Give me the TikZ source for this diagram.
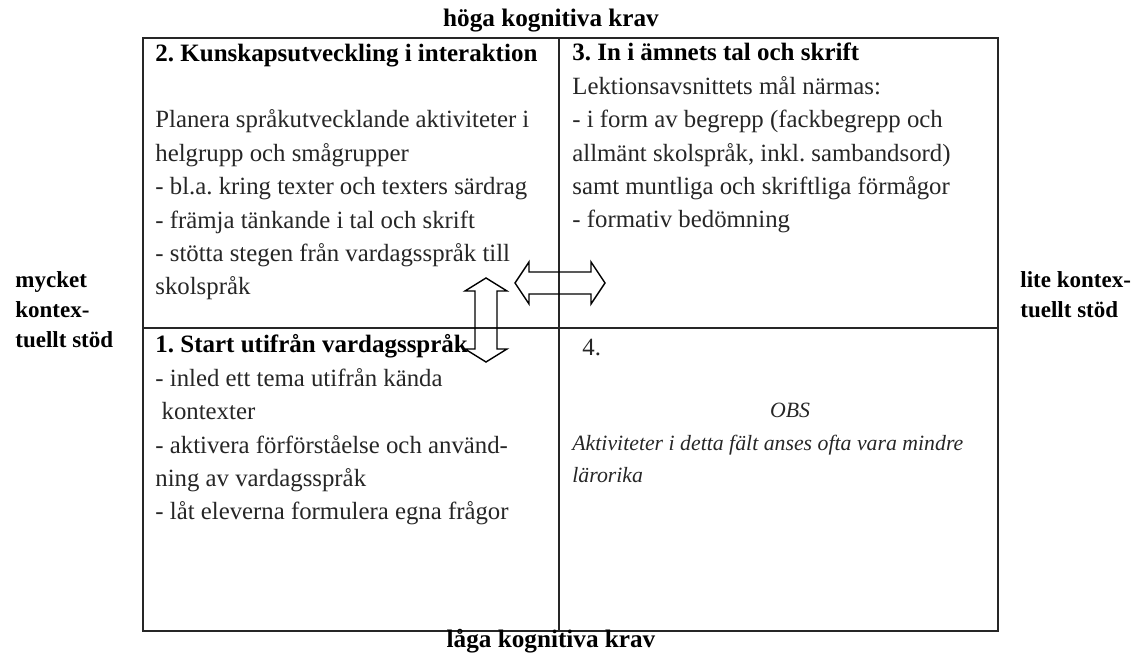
\documentclass[tikz,border=0pt]{standalone}
\usepackage{fontspec}
\setmainfont{Liberation Serif}
\frenchspacing
\tikzset{
  cell/.style={anchor=base west, align=left, inner sep=0pt, text=black!85, font=\fontsize{12.4}{16.7}\selectfont},
  note/.style={anchor=base west, align=left, inner sep=0pt, text=black!85, font=\fontsize{10.9}{16}\selectfont\itshape},
  side/.style={anchor=base west, align=left, inner sep=0pt, font=\fontsize{11.5}{15}\selectfont\bfseries},
  axis/.style={anchor=base, inner sep=0pt, font=\fontsize{12.6}{15}\selectfont\bfseries},
  frame/.style={line width=0.9pt, black!85},
  arrowline/.style={line width=0.7pt, line join=miter},
}
\newcommand{\celltitle}[1]{\textcolor{black}{\fontsize{12.5}{16.7}\selectfont\bfseries #1}}
\begin{document}
\begin{tikzpicture}[x=0.5pt, y=-0.5pt]
  \useasboundingbox (0,0) rectangle (1137,656);

  % grid
  \coordinate (tl) at (143,38);
  \coordinate (br) at (998,631);
  \coordinate (mt) at (559,38);
  \coordinate (mb) at (559,631);
  \coordinate (ml) at (143,328);
  \coordinate (mr) at (998,328);
  \draw[frame] (tl) rectangle (br);
  \draw[frame] (mt) -- (mb);
  \draw[frame] (ml) -- (mr);

  % axes (base anchor = last line)
  \node[axis] (high) at (551,27) {höga kognitiva krav};
  \node[axis] (low) at (551,648) {låga kognitiva krav};
  \node[side] (much) at (15,348) {mycket\\kontex-\\tuellt stöd};
  \node[side] (little) at (1020,318) {lite kontex-\\tuellt stöd};

  % quadrants
  \node[cell] (q2) at (155,295) {\celltitle{2. Kunskapsutveckling i interaktion}\\[16.7pt]
    Planera språkutvecklande aktiviteter i\\
    helgrupp och smågrupper\\
    - bl.a. kring texter och texters särdrag\\
    - främja tänkande i tal och skrift\\
    - stötta stegen från vardagsspråk till\\
    skolspråk};
  \node[cell] (q3) at (572,228) {\celltitle{3. In i ämnets tal och skrift}\\
    Lektionsavsnittets mål närmas:\\
    - i form av begrepp (fackbegrepp och\\
    allmänt skolspråk, inkl. sambandsord)\\
    samt muntliga och skriftliga förmågor\\
    - formativ bedömning};
  \node[cell] (q1) at (155,520) {\celltitle{1. Start utifrån vardagsspråk}\\
    - inled ett tema utifrån kända\\
    \ kontexter\\
    - aktivera förförståelse och använd-\\
    ning av vardagsspråk\\
    - låt eleverna formulera egna frågor};
  \node[cell] (q4) at (582,356) {4.};
  \node[note, anchor=base] (obs) at (790,418) {OBS};
  \node[note] (warn) at (572,483) {Aktiviteter i detta fält anses ofta vara mindre\\lärorika};

  % arrows
  \begin{scope}[shift={(560,283)}]
    \draw[arrowline] (-45,0) -- (-31,-21) -- (-31,-11) -- (31,-11) -- (31,-21)
      -- (45,0) -- (31,21) -- (31,11) -- (-31,11) -- (-31,21) -- cycle;
  \end{scope}
  \begin{scope}[shift={(486,320)}]
    \draw[arrowline] (0,-42) -- (-21,-29) -- (-11,-29) -- (-11,29) -- (-21,29)
      -- (0,42) -- (21,29) -- (11,29) -- (11,-29) -- (21,-29) -- cycle;
  \end{scope}
\end{tikzpicture}
\end{document}
